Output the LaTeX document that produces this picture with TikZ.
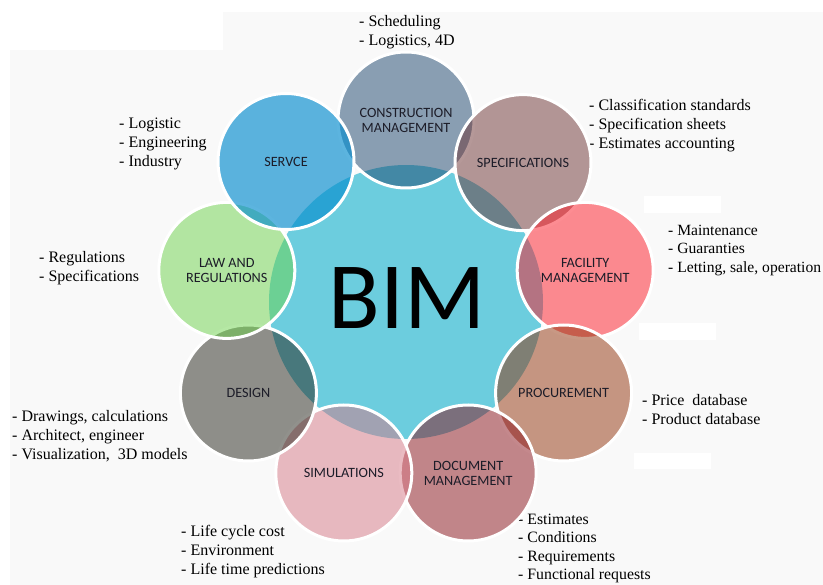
\documentclass[tikz,border=0pt]{standalone}
\usepackage{fontspec}
\setmainfont{Liberation Serif}
\newfontfamily\labfont{Carlito}
\definecolor{bggrey}{RGB}{249,249,249}
\definecolor{bimteal}{RGB}{108,205,222}
\definecolor{cmcol}{RGB}{27,69,109}
\definecolor{speccol}{RGB}{109,51,51}
\definecolor{faccol}{RGB}{253,27,39}
\definecolor{proccol}{RGB}{147,51,11}
\definecolor{doccol}{RGB}{139,19,27}
\definecolor{simcol}{RGB}{215,121,135}
\definecolor{descol}{RGB}{37,37,27}
\definecolor{lawcol}{RGB}{109,211,75}
\definecolor{sercol}{RGB}{6,141,206}
\definecolor{labtext}{RGB}{28,28,40}
\begin{document}
\begin{tikzpicture}[x=1pt,y=-1pt,
  ring/.style={circle, minimum size=136pt, inner sep=0pt, draw=white, line width=3pt,
    fill=#1, fill opacity=0.5, text opacity=1, text=labtext, align=center,
    font=\labfont\fontsize{14.2}{15}\selectfont},
  items/.style={anchor=west, align=left, inner sep=0pt, text=black,
    font=\fontsize{16}{19}\selectfont},
  patch/.style={fill=white, draw=none}]
\useasboundingbox (0,0) rectangle (823,585);
\clip (0,0) rectangle (823,585);
% background
\fill[white] (0,0) rectangle (823,585);
\fill[bggrey] (10,50) rectangle (823,585);
\fill[bggrey] (223,12) rectangle (823,50);
\path[patch] (644,196) rectangle (721,213);
\path[patch] (639,323) rectangle (716,340);
\path[patch] (634,453) rectangle (711,469);
% item lists
\node[items] (t1) at (359,32.5) {- Scheduling\\- Logistics, 4D};
\node[items] (t2) at (119,143.5) {- Logistic\\- Engineering\\- Industry};
\node[items] (t3) at (589,126) {- Classification standards\\- Specification sheets\\- Estimates accounting};
\node[items, font=\fontsize{15.6}{18.6}\selectfont] (t4) at (668,250.3) {- Maintenance\\- Guaranties\\- Letting, sale, operation};
\node[items] (t5) at (39,268) {- Regulations\\- Specifications};
\node[items] (t6) at (12,436.5) {- Drawings, calculations\\- Architect, engineer\\- Visualization,~ 3D models};
\node[items] (t7) at (642,409.5) {- Price~ database\\- Product database};
\node[items, font=\fontsize{15.8}{18.4}\selectfont] (t8) at (518,548.5) {- Estimates\\- Conditions\\- Requirements\\- Functional requests};
\node[items] (t9) at (181,551.3) {- Life cycle cost\\- Environment\\- Life time predictions};
% centre
\node[circle, minimum size=274pt, inner sep=0pt, fill=bimteal] (bim) at (406,302) {};
\node[font=\labfont\fontsize{95}{95}\selectfont, text=black, inner sep=0pt] (bimlabel) at (407,298.5) {BIM};
% ring, drawn clockwise from the top
\node[ring=cmcol] (cm) at (406,120) {CONSTRUCTION\\MANAGEMENT};
\node[ring=speccol] (spec) at (523,162.6) {SPECIFICATIONS};
\node[ring=faccol] (fac) at (585.2,270.4) {FACILITY\\MANAGEMENT};
\node[ring=proccol] (proc) at (563.6,393) {PROCUREMENT};
\node[ring=doccol] (doc) at (468.2,473) {DOCUMENT\\MANAGEMENT};
\node[ring=simcol] (sim) at (343.8,473) {SIMULATIONS};
\node[ring=descol] (des) at (248.4,393) {DESIGN};
\node[ring=lawcol] (law) at (226.8,270.4) {LAW AND\\REGULATIONS};
\node[ring=sercol, fill opacity=0.65] (ser) at (286,161.5) {SERVCE};
\end{tikzpicture}
\end{document}
